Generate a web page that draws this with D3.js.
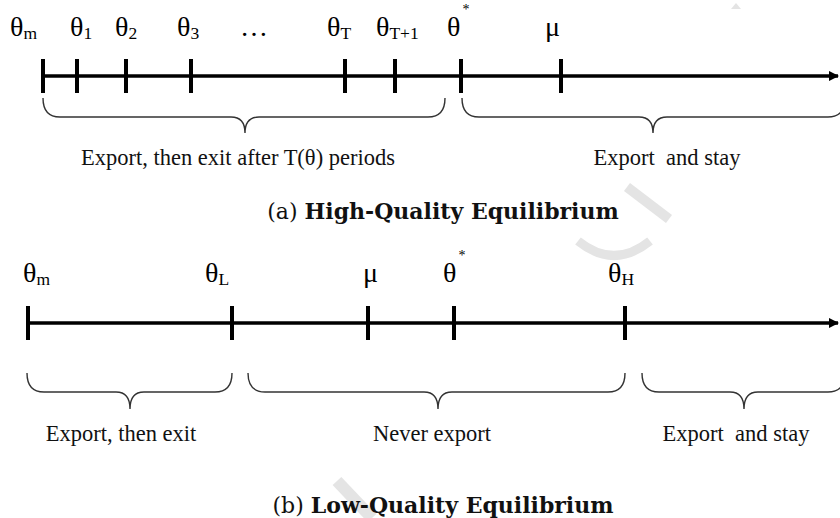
<!DOCTYPE html>
<html>
<head>
<meta charset="utf-8">
<script src="https://cdn.jsdelivr.net/npm/d3@7/dist/d3.min.js"></script>
<style>
  html, body { margin: 0; padding: 0; background: #fff; }
  svg { display: block; }
  .lbl { font-family: "Liberation Serif", "Times New Roman", serif; fill: #000; }
  .txt { font-family: "Liberation Serif", "Times New Roman", serif; fill: #111; white-space: pre; }
  .cap { font-family: "DejaVu Serif", serif; fill: #111; }
</style>
</head>
<body>
<svg id="chart" width="840" height="518"></svg>
<script>
// ---- Data (positions along the type axis, arbitrary units) ----
// Panel (a): High-Quality Equilibrium
const topTickNames   = ["θm", "θ1", "θ2", "θ3", "θT", "θT+1", "θ*", "μ"];
const topTickValues  = [3, 37, 86, 151, 305, 355, 421, 521];
const topLabelMain   = ["θ", "θ", "θ", "θ", "…", "θ", "θ", "θ", "μ"];
const topLabelSub    = ["m", "1", "2", "3", "", "T", "T+1", "", ""];
const topLabelSup    = ["", "", "", "", "", "", "", "*", ""];
const topLabelAt     = [-30, 30, 75, 137, 200, 287, 336, 407, 505];
const topRegions     = ["Export, then exit after T(θ) periods", "Export  and stay"];
const topBraceFrom   = [3, 422];
const topBraceTo     = [405, 805];
const topBraceTip    = [205, 613];
const topRegionText  = [198, 627];
const topAxisEnd     = 800;

// Panel (b): Low-Quality Equilibrium
const botTickNames   = ["θm", "θL", "μ", "θ*", "θH"];
const botTickValues  = [-12, 192, 328, 414, 585];
const botLabelMain   = ["θ", "θ", "μ", "θ", "θ"];
const botLabelSub    = ["m", "L", "", "", "H"];
const botLabelSup    = ["", "", "", "*", ""];
const botLabelAt     = [-17, 165, 323, 403, 568];
const botRegions     = ["Export, then exit", "Never export", "Export  and stay"];
const botBraceFrom   = [-13, 208, 602];
const botBraceTo     = [192, 585, 805];
const botBraceTip    = [90, 398, 704];
const botRegionText  = [81, 392, 696];
const botAxisStart   = -12;
const botAxisEnd     = 800;

const captions = [["(a) ", "High-Quality Equilibrium"], ["(b) ", "Low-Quality Equilibrium"]];

// ---- Drawing ----
const svg = d3.select("#chart");
const x = d3.scaleLinear().domain([0, 800]).range([40, 840]);

svg.append("defs").append("marker")
  .attr("id", "arrow").attr("viewBox", "0 0 10 10")
  .attr("refX", 9).attr("refY", 5)
  .attr("markerWidth", 3).attr("markerHeight", 3)
  .attr("orient", "auto")
  .append("path").attr("d", "M0,0 L10,5 L0,10 Z").attr("fill", "#000");

// faint fragments of the page watermark (decorative)
const wm = svg.append("g").attr("fill", "none").attr("stroke", "#e4e4e4").attr("stroke-linecap", "butt");
wm.append("path").attr("d", "M627,187 L669,219").attr("stroke-width", 10);
wm.append("path").attr("d", "M578,241 Q614,270 650,241").attr("stroke-width", 9);
wm.append("path").attr("d", "M337,481 L372,518").attr("stroke-width", 12);
wm.append("path").attr("d", "M731,9 L736,3 L741,9 Z").attr("fill", "#e4e4e4").attr("stroke", "none");

function bracePath(x0, x1, xt, yTop, yMid, yTip) {
  const r = 17, r2 = 14;
  return `M${x0},${yTop} Q${x0},${yMid} ${x0 + r},${yMid} L${xt - r2},${yMid} ` +
         `Q${xt},${yMid} ${xt},${yTip} Q${xt},${yMid} ${xt + r2},${yMid} ` +
         `L${x1 - r},${yMid} Q${x1},${yMid} ${x1},${yTop}`;
}

function panel(cfg) {
  const g = svg.append("g");
  // axis line
  g.append("line")
    .attr("x1", x(cfg.axisStart)).attr("x2", x(cfg.axisEnd) - 2)
    .attr("y1", cfg.axisY).attr("y2", cfg.axisY)
    .attr("stroke", "#000").attr("stroke-width", 3.5)
    .attr("marker-end", "url(#arrow)");
  // ticks
  g.selectAll("line.tick").data(cfg.ticks).join("line")
    .attr("class", "tick")
    .attr("x1", d => x(d)).attr("x2", d => x(d))
    .attr("y1", cfg.axisY - 17).attr("y2", cfg.axisY + 17)
    .attr("stroke", "#000").attr("stroke-width", 4);
  // labels
  const lbl = g.selectAll("text.lbl").data(cfg.labels).join("text")
    .attr("class", "lbl")
    .attr("x", d => x(d.at)).attr("y", cfg.labelY);
  lbl.append("tspan").attr("font-size", 28).text(d => d.main);
  lbl.filter(d => d.sub).append("tspan")
    .attr("font-size", 17.5).attr("dy", 3).text(d => d.sub);
  lbl.filter(d => d.sup).append("tspan")
    .attr("font-size", 14).attr("dx", 2).attr("dy", -22).text(d => d.sup);
  // braces
  g.selectAll("path.brace").data(cfg.braces).join("path")
    .attr("class", "brace")
    .attr("d", d => bracePath(x(d.from), x(d.to), x(d.tip), cfg.braceTop, cfg.braceMid, cfg.braceTip))
    .attr("fill", "none").attr("stroke", "#333").attr("stroke-width", 1.4);
  // region texts
  g.selectAll("text.txt").data(cfg.regions).join("text")
    .attr("class", "txt")
    .attr("x", d => x(d.at)).attr("y", cfg.textY)
    .attr("text-anchor", "middle").attr("font-size", 22.5)
    .text(d => d.text);
  // caption
  const cap = g.append("text").attr("class", "cap")
    .attr("x", 443).attr("y", cfg.capY).attr("text-anchor", "middle")
    .attr("font-size", 22);
  cap.append("tspan").text(cfg.caption[0]);
  cap.append("tspan").attr("font-weight", "bold").text(cfg.caption[1]);
}

panel({
  axisStart: topTickValues[0], axisEnd: topAxisEnd, axisY: 76,
  ticks: topTickValues,
  labels: topLabelMain.map((m, i) => ({main: m, sub: topLabelSub[i], sup: topLabelSup[i], at: topLabelAt[i]})),
  labelY: 36,
  braces: topBraceFrom.map((f, i) => ({from: f, to: topBraceTo[i], tip: topBraceTip[i]})),
  braceTop: 98, braceMid: 117, braceTip: 133,
  regions: topRegions.map((t, i) => ({text: t, at: topRegionText[i]})),
  textY: 165,
  caption: captions[0], capY: 219
});

panel({
  axisStart: botAxisStart, axisEnd: botAxisEnd, axisY: 323,
  ticks: botTickValues,
  labels: botLabelMain.map((m, i) => ({main: m, sub: botLabelSub[i], sup: botLabelSup[i], at: botLabelAt[i]})),
  labelY: 282,
  braces: botBraceFrom.map((f, i) => ({from: f, to: botBraceTo[i], tip: botBraceTip[i]})),
  braceTop: 373, braceMid: 392, braceTip: 409,
  regions: botRegions.map((t, i) => ({text: t, at: botRegionText[i]})),
  textY: 441,
  caption: captions[1], capY: 513
});
</script>
</body>
</html>
